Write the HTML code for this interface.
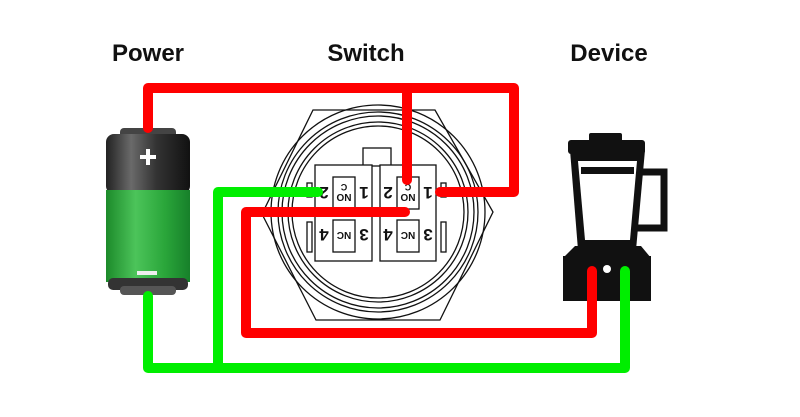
<!DOCTYPE html>
<html><head><style>
body{margin:0;background:#fff;width:800px;height:412px;overflow:hidden}
</style></head><body>
<svg width="800" height="412" viewBox="0 0 800 412" xmlns="http://www.w3.org/2000/svg">
<defs>
<linearGradient id="bk" x1="0" x2="1"><stop offset="0" stop-color="#222"/><stop offset=".3" stop-color="#6a6a6a"/><stop offset=".6" stop-color="#333"/><stop offset="1" stop-color="#111"/></linearGradient>
<linearGradient id="gr" x1="0" x2="1"><stop offset="0" stop-color="#1c8a2a"/><stop offset=".35" stop-color="#4cc45a"/><stop offset=".7" stop-color="#2aa63a"/><stop offset="1" stop-color="#17802a"/></linearGradient>
</defs>
<g font-family="Liberation Sans, sans-serif" font-weight="bold" font-size="24" fill="#111" text-anchor="middle">
<text x="148" y="61">Power</text><text x="366" y="61">Switch</text><text x="609" y="61">Device</text>
</g>
<!-- battery -->
<rect x="120" y="128" width="56" height="10" rx="4" fill="#444"/>
<rect x="106" y="134" width="84" height="60" rx="8" fill="url(#bk)"/>
<rect x="106" y="190" width="84" height="92" fill="url(#gr)"/>
<rect x="108" y="278" width="80" height="12" rx="5" fill="#333"/>
<rect x="120" y="286" width="56" height="9" rx="4" fill="#555"/>
<rect x="140" y="155" width="16" height="4" fill="#fff"/><rect x="146" y="149" width="4" height="16" fill="#fff"/>
<rect x="137" y="271" width="20" height="4" fill="#eee"/>
<!-- switch -->
<g fill="none" stroke="#111" stroke-width="1.3">
<polygon points="313,110 435,110 493,212 440,320 316,320 262,214" fill="#fff"/>
<circle cx="378" cy="212" r="107"/><circle cx="378" cy="212" r="100"/><circle cx="378" cy="212" r="96"/><circle cx="378" cy="212" r="90"/><circle cx="378" cy="212" r="86"/>
<rect x="363" y="148" width="28" height="18" fill="#fff"/>
<rect x="315" y="165" width="57" height="96" fill="#fff"/>
<rect x="380" y="165" width="56" height="96" fill="#fff"/>
<rect x="333" y="177" width="22" height="32"/><rect x="333" y="220" width="22" height="32"/>
<rect x="397" y="177" width="22" height="32"/><rect x="397" y="220" width="22" height="32"/>
<rect x="307" y="183" width="5" height="14"/><rect x="441" y="183" width="5" height="14"/>
<rect x="307" y="222" width="5" height="30"/><rect x="441" y="222" width="5" height="30"/>
</g>
<g font-family="Liberation Sans, sans-serif" font-weight="bold" fill="#111" text-anchor="middle">
<g transform="rotate(180 344 200)"><text x="344" y="206" font-size="10">NO</text><text x="344" y="216" font-size="9">C</text></g>
<g transform="rotate(180 408 200)"><text x="408" y="206" font-size="10">NO</text><text x="408" y="216" font-size="9">C</text></g>
<g transform="rotate(180 344 236)"><text x="344" y="240" font-size="10">NC</text></g>
<g transform="rotate(180 408 236)"><text x="408" y="240" font-size="10">NC</text></g>
<g font-size="17">
<text transform="rotate(180 324 193)" x="324" y="199">2</text><text transform="rotate(180 364 193)" x="364" y="199">1</text>
<text transform="rotate(180 388 193)" x="388" y="199">2</text><text transform="rotate(180 428 193)" x="428" y="199">1</text>
<text transform="rotate(180 324 235)" x="324" y="241">4</text><text transform="rotate(180 364 235)" x="364" y="241">3</text>
<text transform="rotate(180 388 235)" x="388" y="241">4</text><text transform="rotate(180 428 235)" x="428" y="241">3</text>
</g></g>
<!-- blender -->
<rect x="589" y="133" width="33" height="10" rx="2" fill="#111"/>
<rect x="568" y="140" width="77" height="14" rx="3" fill="#111"/>
<polygon points="570,150 645,150 636,250 578,250" fill="#111"/>
<polygon points="578,161 637,161 630,240 585,240" fill="#fff"/>
<rect x="581" y="167" width="53" height="7" fill="#111"/>
<path d="M640 172 H664 V228 H636" fill="none" stroke="#111" stroke-width="7"/>
<polygon points="575,246 641,246 651,258 563,258" fill="#111"/>
<rect x="563" y="256" width="88" height="45" fill="#111"/>
<circle cx="607" cy="269" r="4" fill="#fff"/>
<!-- wires -->
<g fill="none" stroke-linecap="round" stroke-linejoin="round" stroke-width="10">
<path d="M148 128 V88 H514 V192 H440" stroke="#f00"/>
<path d="M407 88 V180" stroke="#f00"/>
<path d="M405 212 H246 V333 H592 V271" stroke="#f00"/>
<path d="M318 192 H218 V368" stroke="#0e0"/>
<path d="M148 296 V368 H625 V271" stroke="#0e0"/>
</g>
</svg>
</body></html>
